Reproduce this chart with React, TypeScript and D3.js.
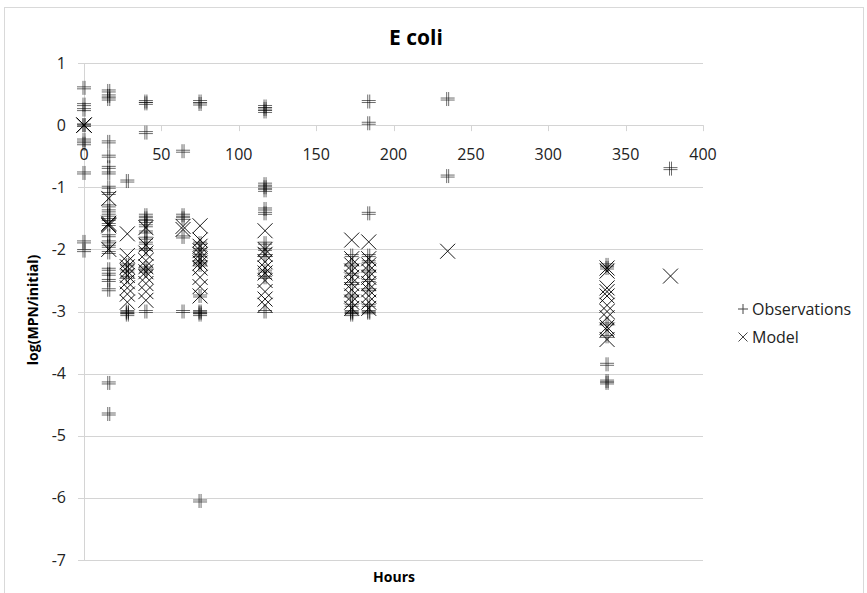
import React from 'react';
import * as d3 from 'd3';

// sampling times (hours) and log(MPN/initial) readings at each time
const HOURS = [0, 16, 28, 40, 64, 75, 117, 173, 184, 235, 338, 379];

const OBSERVED = [
  [0.6, 0.33, 0.25, 0, 0, -0.24, -0.3, -0.77, -1.88, -2.02],
  [0.55, 0.47, 0.42, -0.27, -0.5, -0.68, -0.77, -1.0, -1.1, -1.3, -1.38, -1.45, -1.52, -1.6, -1.78, -1.88, -1.95, -2.05, -2.32, -2.4, -2.5, -2.65, -4.15, -4.65],
  [-0.9, -2.25, -2.35, -2.45, -3.0, -3.02, -3.05],
  [0.38, 0.35, -0.12, -1.45, -1.5, -1.55, -1.62, -1.72, -1.82, -1.9, -2.0, -2.3, -2.35, -3.0],
  [-0.42, -1.45, -1.5, -1.8, -3.0],
  [0.38, 0.34, -1.9, -2.0, -2.1, -2.2, -2.25, -2.75, -3.0, -3.02, -3.05, -6.05],
  [0.3, 0.26, 0.22, -0.95, -1.0, -1.05, -1.35, -1.42, -1.9, -2.0, -2.1, -2.35, -2.45, -3.0],
  [-2.1, -2.25, -2.4, -2.55, -2.75, -2.9, -3.0, -3.02, -3.05],
  [0.38, 0.03, -1.42, -2.1, -2.2, -2.35, -2.5, -2.65, -2.9, -3.0, -3.02],
  [0.42, -0.82],
  [-2.25, -2.3, -3.2, -3.4, -3.85, -4.12, -4.15],
  [-0.7],
];

const MODELLED = [
  [0, 0, 0],
  [-1.18, -1.58, -1.6, -1.62, -2.0],
  [-1.75, -2.1, -2.2, -2.28, -2.35, -2.42, -2.52, -2.62, -2.72, -2.85],
  [-1.65, -1.93, -2.06, -2.18, -2.28, -2.36, -2.44, -2.55, -2.68, -2.82],
  [-1.63, -1.68],
  [-1.62, -1.85, -1.95, -2.02, -2.08, -2.15, -2.22, -2.3, -2.45, -2.6, -2.75],
  [-1.7, -2.0, -2.08, -2.2, -2.3, -2.38, -2.5, -2.68, -2.8, -2.9],
  [-1.85, -2.15, -2.25, -2.35, -2.45, -2.55, -2.65, -2.75, -2.85, -2.95],
  [-1.88, -2.15, -2.25, -2.35, -2.45, -2.55, -2.65, -2.75, -2.85, -2.95],
  [-2.03],
  [-2.3, -2.35, -2.62, -2.68, -2.75, -2.9, -3.0, -3.1, -3.25, -3.3, -3.45],
  [-2.43],
];

const X_TICKS = [0, 50, 100, 150, 200, 250, 300, 350, 400];
const Y_TICKS = [1, 0, -1, -2, -3, -4, -5, -6, -7];

const FONT = "'Open Sans', 'DejaVu Sans', sans-serif";
const GRID = '#d4d4d4';

const plusPath = (s: number, o: number) =>
  `M${-s},${-o}H${s}M${-s},${o}H${s}M${-o},${-s}V${s}M${o},${-s}V${s}`;
const crossPath = (s: number) => `M${-s},${-s}L${s},${s}M${-s},${s}L${s},${-s}`;

export default function App() {
  const width = 867;
  const height = 593;

  const x = d3.scaleLinear().domain([0, 400]).range([84, 703]);
  const y = d3.scaleLinear().domain([-7, 1]).range([560, 63]);

  const obsPts = HOURS.flatMap((h, i) => OBSERVED[i].map(v => [h, v]));
  const modPts = HOURS.flatMap((h, i) => MODELLED[i].map(v => [h, v]));

  return (
    <svg width={width} height={height} style={{ position: 'absolute', left: 0, top: 0 }} fontFamily={FONT}>
      <rect x={0} y={0} width={width} height={height} fill="#fff" />
      <rect x={4.5} y={7.5} width={859} height={600} fill="none" stroke="#d9d9d9" />

      <text x={416} y={45} textAnchor="middle" fontSize={21} fontWeight="bold">E coli</text>

      {/* horizontal gridlines */}
      {Y_TICKS.map(t => (
        <line key={'g' + t} x1={78} x2={x(400)} y1={Math.round(y(t)) + 0.5} y2={Math.round(y(t)) + 0.5} stroke={GRID} />
      ))}
      {/* y axis line */}
      <line x1={84.5} x2={84.5} y1={y(1)} y2={y(-7)} stroke={GRID} />
      {/* x ticks on zero line */}
      {X_TICKS.map(t => (
        <line key={'xt' + t} x1={Math.round(x(t)) + 0.5} x2={Math.round(x(t)) + 0.5} y1={y(0)} y2={y(0) + 6} stroke={GRID} />
      ))}

      {Y_TICKS.map(t => (
        <text key={'yl' + t} x={66} y={y(t)} dy="0.35em" textAnchor="end" fontSize={16} fill="#222">{t}</text>
      ))}
      {X_TICKS.map(t => (
        <text key={'xl' + t} x={x(t)} y={y(0) + 35} textAnchor="middle" fontSize={16} fill="#222">{t}</text>
      ))}

      <text transform={`translate(38,${310}) rotate(-90)`} textAnchor="middle" fontSize={14} fontWeight="bold">log(MPN/initial)</text>
      <text x={394} y={582} textAnchor="middle" fontSize={14} fontWeight="bold">Hours</text>

      {/* observations */}
      {obsPts.map((d, i) => (
        <path key={'o' + i} transform={`translate(${x(d[0])},${y(d[1])})`} d={plusPath(7, 1)}
          fill="none" stroke="#000" strokeOpacity={0.58} strokeWidth={1} />
      ))}
      {/* model */}
      {modPts.map((d, i) => (
        <path key={'m' + i} transform={`translate(${x(d[0])},${y(d[1])})`} d={crossPath(7.5)}
          fill="none" stroke="#000" strokeOpacity={0.9} strokeWidth={1} />
      ))}

      {/* legend */}
      <path transform="translate(743,309)" d={`M-5,0H5M0,-5V5`} stroke="#444" fill="none" />
      <text x={752} y={309} dy="0.35em" fontSize={16} fill="#222">Observations</text>
      <path transform="translate(743,337)" d={crossPath(4.5)} stroke="#444" fill="none" />
      <text x={752} y={337} dy="0.35em" fontSize={16} fill="#222">Model</text>
    </svg>
  );
}
